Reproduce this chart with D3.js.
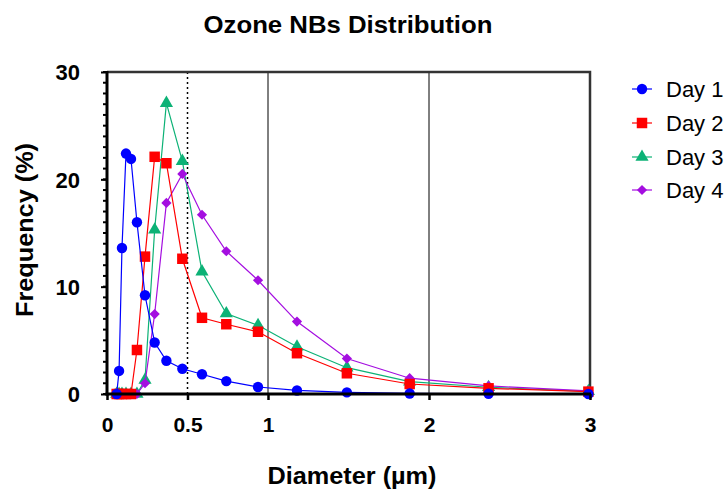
<!DOCTYPE html>
<html>
<head>
<meta charset="utf-8">
<script src="https://cdn.jsdelivr.net/npm/d3@7/dist/d3.min.js"></script>
<style>
  body { margin: 0; background: #fff; }
  svg { display: block; font-family: "Liberation Sans", Arial, sans-serif; }
</style>
</head>
<body>
<svg id="chart" width="727" height="491"></svg>
<script>
// ---- data ----
const diameters = [0.06, 0.075, 0.093, 0.118, 0.149, 0.186, 0.236, 0.296, 0.369, 0.468, 0.59, 0.741, 0.938, 1.18, 1.49, 1.88, 2.37, 2.99];
const day1 = [0, 2.15, 13.6, 22.4, 21.9, 16.0, 9.2, 4.8, 3.1, 2.35, 1.84, 1.2, 0.65, 0.33, 0.15, 0.05, 0.02, 0.0];
const day2 = [0, 0, 0, 0, 0, 4.1, 12.8, 22.1, 21.5, 12.6, 7.1, 6.5, 5.8, 3.8, 1.93, 0.93, 0.53, 0.22];
const day3 = [0, 0, 0, 0, 0, 0, 1.3, 15.3, 27.1, 21.7, 11.4, 7.5, 6.4, 4.4, 2.45, 1.15, 0.63, 0.25];
const day4 = [0, 0, 0, 0, 0, 0, 1.0, 7.45, 17.8, 20.5, 16.7, 13.3, 10.6, 6.75, 3.3, 1.47, 0.75, 0.3];
const seriesNames = ["Day 1", "Day 2", "Day 3", "Day 4"];
const xTickValues = [0, 0.5, 1, 2, 3];
const xTickLabels = ["0", "0.5", "1", "2", "3"];
const yTickValues = [0, 10, 20, 30];

const colors = { "Day 1": "#0000ff", "Day 2": "#ff0000", "Day 3": "#0cb276", "Day 4": "#a40ee0" };
const values = { "Day 1": day1, "Day 2": day2, "Day 3": day3, "Day 4": day4 };
const markerPath = {
  "Day 1": d3.symbol().type(d3.symbolCircle).size(85)(),
  "Day 2": d3.symbol().type(d3.symbolSquare).size(110)(),
  "Day 3": d3.symbol().type(d3.symbolTriangle).size(75)(),
  "Day 4": d3.symbol().type(d3.symbolSquare).size(52)()
};
const markerRot = { "Day 1": 0, "Day 2": 0, "Day 3": 0, "Day 4": 45 };

const svg = d3.select("#chart");
const L = 107, R = 590, T = 72, B = 394;
const x = d3.scaleLinear().domain([0, 3]).range([L, R]);
const y = d3.scaleLinear().domain([0, 30]).range([B, T]);

// gridlines
svg.append("g").selectAll("line").data([1, 2]).join("line")
  .attr("x1", d => x(d)).attr("x2", d => x(d)).attr("y1", T).attr("y2", B)
  .attr("stroke", "#000").attr("stroke-width", 1);
svg.append("line")
  .attr("x1", x(0.5)).attr("x2", x(0.5)).attr("y1", T).attr("y2", B)
  .attr("stroke", "#000").attr("stroke-width", 1.5).attr("stroke-dasharray", "2,3");

// frame top/right
svg.append("path")
  .attr("d", `M${L},${T}H${R}V${B}`)
  .attr("fill", "none").attr("stroke", "#333").attr("stroke-width", 2.5);

// series (drawing order: Day 3, Day 4, Day 2, Day 1)
const drawOrder = ["Day 3", "Day 4", "Day 2", "Day 1"];
const line = d3.line().x(d => x(d[0])).y(d => y(d[1]));
drawOrder.forEach(name => {
  const pts = diameters.map((dv, i) => [dv, values[name][i]]);
  const g = svg.append("g");
  g.append("path").datum(pts).attr("d", line)
    .attr("fill", "none").attr("stroke", colors[name]).attr("stroke-width", 1.2);
  g.selectAll("path.m").data(pts).join("path").attr("class", "m")
    .attr("transform", d => `translate(${x(d[0])},${y(d[1])}) rotate(${markerRot[name]})`)
    .attr("d", markerPath[name])
    .attr("fill", colors[name]);
});

// y axis
const yAxis = d3.axisLeft(y).tickValues(yTickValues).tickSize(6).tickFormat(d3.format("d"));
const yg = svg.append("g").attr("transform", `translate(${L},0)`).call(yAxis);
yg.select(".domain").remove();
yg.selectAll(".tick line").attr("stroke", "#000").attr("stroke-width", 2);
yg.selectAll("text").attr("x", -27).attr("dy", "0.36em")
  .attr("font-size", 22).attr("font-weight", "bold").attr("fill", "#000")
  .attr("font-family", "Liberation Sans, Arial, sans-serif");
const yMinor = d3.range(0, 31, 1);
svg.append("g").selectAll("line").data(yMinor).join("line")
  .attr("x1", L - 4).attr("x2", L).attr("y1", d => y(d)).attr("y2", d => y(d))
  .attr("stroke", "#000").attr("stroke-width", 2);
svg.append("line").attr("x1", L).attr("x2", L).attr("y1", T - 1).attr("y2", B + 1.5)
  .attr("stroke", "#000").attr("stroke-width", 3);

// x axis
const xAxis = d3.axisBottom(x).tickValues(xTickValues).tickSize(6)
  .tickFormat((d, i) => xTickLabels[i]);
const xg = svg.append("g").attr("transform", `translate(0,${B})`).call(xAxis);
xg.select(".domain").remove();
xg.selectAll(".tick line").attr("stroke", "#000").attr("stroke-width", 2.5);
xg.selectAll("text").attr("y", 38).attr("dy", "0")
  .attr("font-size", 21).attr("font-weight", "bold").attr("fill", "#000")
  .attr("font-family", "Liberation Sans, Arial, sans-serif");
svg.append("line").attr("x1", L - 1.5).attr("x2", R + 1).attr("y1", B).attr("y2", B)
  .attr("stroke", "#000").attr("stroke-width", 3);

// title and axis titles
svg.append("text").attr("x", 348).attr("y", 33).attr("text-anchor", "middle")
  .attr("font-size", 24).attr("font-weight", "bold")
  .attr("textLength", 289).attr("lengthAdjust", "spacingAndGlyphs")
  .text("Ozone NBs Distribution");
svg.append("text").attr("x", 352).attr("y", 484).attr("text-anchor", "middle")
  .attr("font-size", 24).attr("font-weight", "bold")
  .attr("textLength", 169).attr("lengthAdjust", "spacingAndGlyphs")
  .text("Diameter (µm)");
svg.append("text").attr("transform", "translate(33,230) rotate(-90)").attr("text-anchor", "middle")
  .attr("font-size", 24).attr("font-weight", "bold")
  .attr("textLength", 174).attr("lengthAdjust", "spacingAndGlyphs")
  .text("Frequency (%)");

// legend
const legY = [89, 123, 157, 190];
seriesNames.forEach((name, i) => {
  const g = svg.append("g").attr("transform", `translate(0,${legY[i]})`);
  g.append("line").attr("x1", 632).attr("x2", 652).attr("y1", 0).attr("y2", 0)
    .attr("stroke", colors[name]).attr("stroke-width", 1.2);
  g.append("path").attr("transform", `translate(642,0) rotate(${markerRot[name]})`)
    .attr("d", markerPath[name]).attr("fill", colors[name]);
  g.append("text").attr("x", 666).attr("y", 8).attr("font-size", 22).text(name);
});
</script>
</body>
</html>
